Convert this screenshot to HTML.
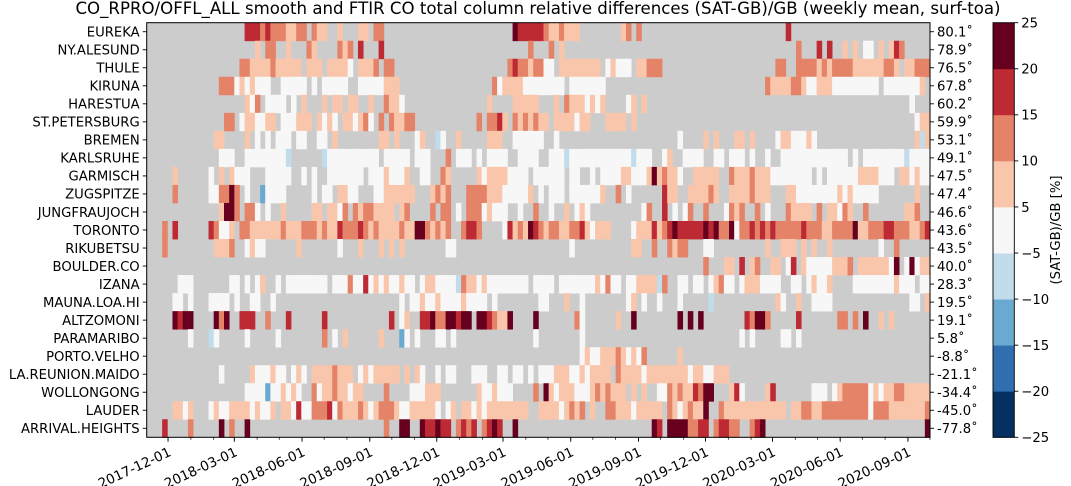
<!DOCTYPE html>
<html><head><meta charset="utf-8"><style>
html,body{margin:0;padding:0;background:#fff;}
svg{display:block;font-family:"DejaVu Sans","Liberation Sans",sans-serif;}
</style></head><body>
<svg id="chart" width="1071" height="486" viewBox="0 0 1071 486" xmlns="http://www.w3.org/2000/svg">
<text x="538" y="14" text-anchor="middle" font-size="16.6" fill="#000">CO_RPRO/OFFL_ALL smooth and FTIR CO total column relative differences (SAT-GB)/GB (weekly mean, surf-toa)</text>
<g id="cells"></g>
<g id="axes"></g>
<g id="cbar"></g>
</svg>
<script>
const stations = ["EUREKA","NY.ALESUND","THULE","KIRUNA","HARESTUA","ST.PETERSBURG","BREMEN","KARLSRUHE","GARMISCH","ZUGSPITZE","JUNGFRAUJOCH","TORONTO","RIKUBETSU","BOULDER.CO","IZANA","MAUNA.LOA.HI","ALTZOMONI","PARAMARIBO","PORTO.VELHO","LA.REUNION.MAIDO","WOLLONGONG","LAUDER","ARRIVAL.HEIGHTS"];
const latitudes = ["80.1","78.9","76.5","67.8","60.2","59.9","53.1","49.1","47.5","47.4","46.6","43.6","43.5","40.0","28.3","19.5","19.1","5.8","-8.8","-21.1","-34.4","-45.0","-77.8"];
const xTickLabels = ["2017-12-01","2018-03-01","2018-06-01","2018-09-01","2018-12-01","2019-03-01","2019-06-01","2019-09-01","2019-12-01","2020-03-01","2020-06-01","2020-09-01"];
const cbarTicks = [25,20,15,10,5,-5,-10,-15,-20,-25];
const startDate = "2017-11-02";
const nWeeks = 152;
const codeValues = {w:0,p:7.5,s:12.5,r:17.5,d:22.5,b:-7.5,m:-12.5,B:-17.5,N:-22.5};
const rowRuns = [
".19 r3 s1 r1 s3 p2 s2 .1 s1 p2 .2 p1 .3 p2 .1 s2 .25 d1 r5 s1 p2 s1 p3 .8 p1 s1 .1 s1 .28 r1 .27",
".21 p1 .1 s2 .2 p1 .3 s1 p1 .4 s1 p1 s1 .1 r1 .3 r1 .28 s1 .3 s1 .1 p1 .45 s1 .3 r1 .1 r1 .2 p1 .1 p1 .1 w2 .1 p1 .1 p1 r1 s1 .5",
".18 s2 p4 s1 p5 .1 p3 .1 p4 w1 .1 p3 s1 .1 s2 .22 s1 r1 s2 p1 s2 w2 .1 p8 .1 w1 p1 w3 .1 p2 s3 .22 s2 .2 s4 p1 s1 p1 s4 p6 s2 p1 .1 p2 s3",
".14 s3 w1 p1 w1 p1 w3 .2 w5 .1 w1 .1 w5 .2 w5 p3 .18 s1 w1 p4 w8 .1 w7 .31 s1 p4 s2 p1 w2 p3 w9 .1 w7 p1 .1",
".19 p1 w1 s1 .1 w4 .1 w1 .1 p1 .3 p1 .1 p2 .1 p2 .2 p1 .2 s1 p2 w1 .16 p1 .4 p5 .3 p1 .1 s1 p3 w1 p1 w1 p1 .4 w1 p1 .1 p1 .51 w1 .3",
".15 s2 .1 w1 p2 w2 p2 .1 w3 p3 .1 p1 w1 p1 w1 .1 p2 w1 p1 s1 w1 .1 s1 .1 s1 p2 s2 .12 s1 .1 s2 r1 p1 .1 s1 p1 s1 p1 s1 p2 .1 p4 w1 p2 .3 p4 .1 p1 .54 w1 p2",
".13 p2 .4 p1 .1 w1 .1 w1 .1 w3 .1 w2 .2 w2 .1 p1 .8 p2 .1 p1 .3 w1 p1 .2 b1 w1 .2 p1 .5 p3 .2 w5 w1 .2 w1 .23 w1 .4 p1 .1 p1 .3 p2 .1 p1 .4 w1 p2 w3 p1 w1 .19 p1 b1 p1",
".14 w3 .2 w8 b1 .6 b1 w10 .1 w5 .1 w3 .3 s1 .1 w3 .1 w1 .1 w4 .2 w4 .2 w3 b1 w12 b1 w3 .2 w1 p1 .2 w4 .2 w2 .1 w3 .1 w1 .2 w1 .2 w13 .1 w1 .1 w8 b1 w4",
".5 p1 .6 w1 .1 p1 .1 p1 w3 .3 w5 .2 w1 .1 w1 .2 w7 .1 w3 p1 w3 p1 .2 w2 .2 s1 p1 .5 p1 w1 p4 w4 .1 w1 w5 .1 w2 .2 w1 .1 w4 p2 w3 p1 d1 p1 s1 p2 w1 .2 p5 .2 s1 p3 s1 p3 w8 .1 w1 .1 w6 p4 w3 .1 p2 w1 p1 w2",
".5 s1 .6 w2 s2 d1 s1 .1 w1 .2 m1 w4 .5 w1 .1 w2 .1 p2 w2 .3 w2 p6 .3 p1 s1 p1 s1 .3 s4 p3 w5 p1 .1 w1 .1 w3 .1 w6 p1 .2 s1 .1 w1 .6 r1 p2 .2 p4 s1 p1 .2 p4 s1 p3 .3 p2 w8 p1 w1 p1 w5 .7 p1 .2",
".14 p1 d2 s1 .1 s2 w1 .1 w1 .2 p1 .5 p2 .1 p2 w1 s1 .1 s1 p1 s1 s1 p4 .1 p1 s1 .4 s1 .1 s2 .1 w1 .1 s3 w1 p1 w3 .2 w1 .2 s1 .2 w1 .2 p1 .1 w1 p1 w1 .10 w1 s1 .2 r1 .1 w1 .1 w1 s1 .2 s1 .3 w1 s1 p1 s1 .2 s1 .1 w1 .3 s1 p4 .1 s1 .1 p2 w1 s1 p1 .2 s1 .7 p2 s1 .2",
".3 s1 .1 r1 .6 r1 s1 w2 p1 .1 s2 p6 s1 p3 s3 p1 s1 p2 r1 s3 r1 s1 p1 s1 p4 s1 p2 d2 s1 p1 s1 p1 s1 .2 s1 r2 s1 .4 w1 r1 p1 s1 p1 d1 r1 s1 p1 s2 p2 s2 r1 p1 w1 p3 .4 w1 p3 r1 p1 s1 r1 d1 r5 d1 r1 d1 s2 d1 w1 s2 r1 s1 r1 s1 r1 s5 r1 s3 p2 s4 d1 p2 s3 r2 s3 p2 s1 r1",
".3 s1 .9 p3 s1 .2 w1 p1 w2 .6 p1 .7 w1 .3 p1 .3 p1 .1 p1 .1 p1 .8 w2 .16 .6 w1 .11 p2 .2 s1 .2 s1 p1 s2 .3 w2 .10 p1 .2 p3 .1 p1 .1 p1 .2 p1 .9 w1 .2 s1 .6",
".108 s1 .3 p2 .1 r1 .1 p1 s1 .2 p2 .1 w1 r1 .1 p1 w5 p3 s1 .1 p6 w1 d1 .1 w1 d1 w1 p2",
".6 w3 .7 w2 .1 w1 .1 w1 p1 .2 w1 .1 w8 .1 w3 s1 w2 r1 w1 p1 w1 p1 w2 p1 w2 .1 w1 p2 w4 b1 s1 p2 w1 p1 w8 .1 w1 w3 .1 w7 p1 w1 s1 w2 .1 w2 p4 b1 s1 .2 w2 .1 w2 .1 w1 p1 s1 w2 .1 w1 p3 w4 .2 w2 .1 w1 p1 w2 p1 .4 w8 p1 w3 .1 w2",
".5 w2 .1 w1 .3 w4 .1 w1 .2 w2 .2 w1 .24 w1 .1 w2 p1 w2 p1 w4 p1 w4 .1 w1 .8 w2 .3 p1 .2 w1 .8 w1 p1 .1 w1 .2 w1 .3 w1 .5 b1 .12 p1 w1 .2 p1 .2 w4 .15 w2 .1 p1",
".5 d1 r1 d2 .4 d1 s1 d1 .2 r3 .2 s1 .3 r1 .6 r1 .12 r1 .1 w1 p1 .2 r2 d1 s2 d2 r1 d2 .1 d2 r1 s1 p2 d1 .4 d1 .7 s1 w1 .6 p1 .2 d1 .8 d1 .1 d1 .1 d1 .8 r1 s1 d2 s1 .5 r1 .7 s2 .1 s1 .1 d1 .2 p1 .1 p1 .6",
".8 w1 .3 b1 w1 .5 w1 .5 w1 .8 s1 .1 w1 .1 p1 .6 p1 .3 m1 w1 .1 w1 .3 w2 .1 w1 .15 w1 .8 w1 .30 w1 .1 w1 .5 w2 .1 w1 .25",
".84 w1 p1 w2 p3 s1 p1 w1 p1 w1 s1 .6 p1 .48",
".14 w1 .5 p1 w3 p1 w2 .1 w1 p1 w1 .1 p4 s1 p3 .1 w1 p1 w1 p5 .1 p1 .1 p1 w1 .2 w1 .1 w2 .3 w3 .2 w2 .1 w2 .1 w1 .1 w3 p3 w2 p1 w1 p4 .1 s1 p4 w1 p8 w1 p2 w2 p3 .39",
".19 w4 m1 w2 p1 w1 p1 w1 .2 s1 w1 p2 s1 p2 w1 p2 .4 s1 .4 w3 p3 .7 p1 w2 p1 w3 .4 s1 .1 d1 p1 w1 p3 w3 p1 s1 p1 s1 p3 .1 p1 .1 p1 .2 w2 s1 p1 s1 p2 r1 s1 d2 .3 p1 r1 w1 .4 p1 r1 .7 w3 .1 w1 p1 s5 w1 p1 w1 p2 s2 p5",
".5 p2 w1 p1 .3 w1 p1 w2 p4 w1 p1 w2 p1 .1 p2 w1 r1 w2 s3 r1 w1 s1 p3 s1 p1 w1 p1 s3 p1 w2 p5 w1 .1 w1 p1 .1 p2 w1 p1 w1 p8 .2 p4 w1 p1 s1 p1 s1 .1 p1 .2 s2 p3 w1 p5 .1 s1 p1 w1 p1 s1 p2 d1 .2 s1 p12 .1 p2 s2 p2 s9 w1 s3 p7 s1",
".3 r1 .4 s1 .5 d1 .1 s1 .2 d1 .26 s1 .2 d2 .2 d1 r2 d1 r2 .1 s1 r1 s1 r1 .1 s1 r1 d1 r1 .2 d1 .26 d1 r1 .1 d4 s2 r2 .1 s1 r2 s2 .2 s1 r1 d1 .31 d1"
];
const values = rowRuns.map(function(str){
  const out = [];
  str.trim().split(/\s+/).forEach(function(tok){
    const c = tok[0], n = parseInt(tok.slice(1),10);
    for (let k=0;k<n;k++) out.push(c === '.' ? null : codeValues[c]);
  });
  while (out.length < nWeeks) out.push(null);
  return out.slice(0, nWeeks);
});
</script>
<script>
const NS = "http://www.w3.org/2000/svg";
const L = 146.7, R = 930, T = 22.7, B = 437.3;
const FS = 13.2;
const rowH = (B - T) / stations.length;
const colW = (R - L) / nWeeks;
const t0 = Date.parse(startDate + "T00:00:00Z");
const pxPerDay = colW / 7;
function xOfDate(s){ return L + (Date.parse(s + "T00:00:00Z") - t0) / 86400000 * pxPerDay; }
function xOfWeek(i){ return L + i * colW; }
function yOfRow(i){ return T + i * rowH; }
const bounds = [-25,-20,-15,-10,-5,5,10,15,20,25];
const binColors = ["#053061","#2f6fb0","#6aaad0","#c1ddec","#f7f7f7","#f9c6ab","#e58368","#bd2a34","#67001f"];
function colorOf(v){
  for (let k=0;k<9;k++){ if (v < bounds[k+1]) return binColors[k]; }
  return binColors[8];
}
function mk(tag, attrs, parent){
  const e = document.createElementNS(NS, tag);
  for (const k in attrs) e.setAttribute(k, attrs[k]);
  parent.appendChild(e); return e;
}
const cells = document.getElementById('cells');
const axes = document.getElementById('axes');
const cbar = document.getElementById('cbar');
const bg = mk('rect',{x:L,y:T,width:R-L,height:B-T,fill:'#cccccc'},cells);


values.forEach(function(row, i){
  row.forEach(function(v, j){
    if (v === null) return;
    const r = mk('rect',{x:xOfWeek(j).toFixed(2),y:yOfRow(i).toFixed(2),width:(colW+0.4).toFixed(2),height:(rowH+0.4).toFixed(2),fill:colorOf(v)},cells);
    
    
  });
});
const frame = mk('rect',{x:L,y:T,width:R-L,height:B-T,fill:'none',stroke:'#000','stroke-width':1},axes);


stations.forEach(function(name, i){
  const yc = yOfRow(i) + rowH/2;
  mk('line',{x1:L-4,x2:L,y1:yc,y2:yc,stroke:'#000','stroke-width':0.9},axes);
  const t = mk('text',{x:L-7,y:yc+4.8,'text-anchor':'end','font-size':FS,fill:'#000'},axes);
  t.textContent = name;
  
  
  mk('line',{x1:R,x2:R+4,y1:yc,y2:yc,stroke:'#000','stroke-width':0.9},axes);
  const t2 = mk('text',{x:R+7,y:yc+4.8,'text-anchor':'start','font-size':FS,fill:'#000'},axes);
  t2.textContent = latitudes[i] + '˚';
  
  
});
for (let y=2017;y<=2020;y++){ for (let m=1;m<=12;m++){
  const s = y+'-'+String(m).padStart(2,'0')+'-01';
  const x = xOfDate(s);
  if (x < L-0.5 || x > R+0.5) continue;
  mk('line',{x1:x,x2:x,y1:B,y2:B+2.5,stroke:'#000','stroke-width':0.7},axes);
}}
xTickLabels.forEach(function(s){
  const x = xOfDate(s);
  mk('line',{x1:x,x2:x,y1:B,y2:B+4.5,stroke:'#000','stroke-width':0.9},axes);
  const t = mk('text',{x:0,y:0,'text-anchor':'end','font-size':13.5,fill:'#000',transform:'translate('+(x+4).toFixed(1)+','+(B+18)+') rotate(-25)'},axes);
  t.textContent = s;
  
  
});
const CL = 993, CW = 21.3;
const cbH = (B - T) / 9;
binColors.forEach(function(c, k){
  const y = B - (k+1)*cbH;
  const r = mk('rect',{x:CL,y:y.toFixed(2),width:CW,height:(cbH+0.4).toFixed(2),fill:c},cbar);
  
  
});
mk('rect',{x:CL,y:T,width:CW,height:B-T,fill:'none',stroke:'#000','stroke-width':0.9},cbar);
cbarTicks.forEach(function(v){
  const idx = bounds.indexOf(v);
  const y = B - idx*cbH;
  mk('line',{x1:CL+CW,x2:CL+CW+4,y1:y,y2:y,stroke:'#000','stroke-width':0.9},cbar);
  const t = mk('text',{x:CL+CW+7,y:y+4.8,'font-size':FS,fill:'#000'},cbar);
  t.textContent = v < 0 ? '\u2212' + Math.abs(v) : String(v);
  
  
});
const cl = mk('text',{x:0,y:0,'text-anchor':'middle','font-size':FS,fill:'#000',transform:'translate(1060,'+((T+B)/2).toFixed(1)+') rotate(-90)'},cbar);
cl.textContent = '(SAT-GB)/GB [%]';


</script>
</body></html>
